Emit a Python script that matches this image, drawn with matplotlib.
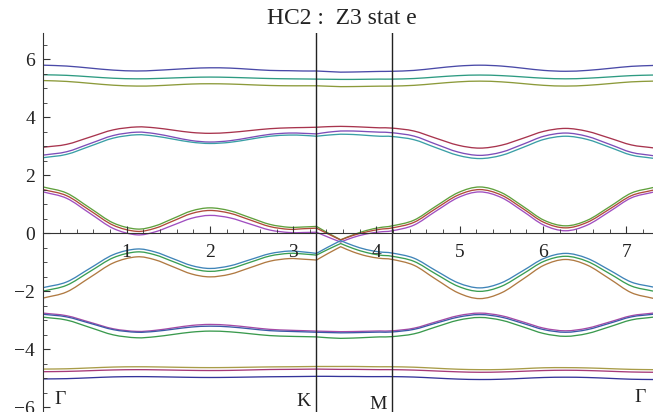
import matplotlib
matplotlib.use("Agg")
import matplotlib.pyplot as plt
from matplotlib.path import Path
from matplotlib.patches import PathPatch
from matplotlib.ticker import MultipleLocator, FixedLocator

# ---------------- band data ----------------
k = [0, 0.28, 0.56, 0.84, 1.12, 1.34, 1.56, 1.78, 2.0, 2.24, 2.48, 2.72, 2.95,
     3.12, 3.28, 3.42, 3.57, 3.72, 3.88, 4.04, 4.19, 4.45, 4.71, 4.98, 5.24,
     5.5, 5.76, 6.01, 6.27, 6.53, 6.8, 7.06, 7.32]

band1 = [5.80, 5.77, 5.70, 5.63, 5.60, 5.62, 5.655, 5.69, 5.71, 5.70, 5.66, 5.62, 5.61,
         5.60, 5.60, 5.58, 5.56, 5.565, 5.575, 5.585, 5.59, 5.62, 5.695, 5.77, 5.80,
         5.77, 5.695, 5.62, 5.59, 5.62, 5.69, 5.76, 5.79]
band2 = [5.47, 5.45, 5.40, 5.35, 5.33, 5.34, 5.36, 5.38, 5.39, 5.38, 5.36, 5.34, 5.33,
         5.325, 5.32, 5.315, 5.31, 5.31, 5.315, 5.32, 5.32, 5.34, 5.39, 5.44, 5.46,
         5.44, 5.395, 5.35, 5.33, 5.35, 5.395, 5.44, 5.46]
band3 = [5.27, 5.24, 5.175, 5.11, 5.08, 5.09, 5.12, 5.15, 5.16, 5.15, 5.125, 5.10, 5.09,
         5.09, 5.09, 5.075, 5.06, 5.063, 5.07, 5.077, 5.08, 5.105, 5.165, 5.225, 5.25,
         5.225, 5.165, 5.105, 5.08, 5.105, 5.165, 5.225, 5.25]
band4 = [2.97, 3.07, 3.32, 3.57, 3.67, 3.64, 3.56, 3.48, 3.45, 3.48, 3.545, 3.61, 3.64,
         3.65, 3.66, 3.68, 3.69, 3.68, 3.66, 3.64, 3.63, 3.53, 3.285, 3.04, 2.94,
         3.04, 3.28, 3.52, 3.62, 3.52, 3.285, 3.05, 2.95]
band5 = [2.70, 2.815, 3.095, 3.375, 3.49, 3.44, 3.32, 3.20, 3.15, 3.195, 3.305, 3.415, 3.46,
         3.45, 3.43, 3.49, 3.53, 3.53, 3.51, 3.49, 3.47, 3.355, 3.08, 2.805, 2.69,
         2.80, 3.075, 3.35, 3.46, 3.345, 3.07, 2.795, 2.68]
band6 = [2.61, 2.725, 3.005, 3.285, 3.40, 3.355, 3.25, 3.145, 3.10, 3.14, 3.245, 3.35, 3.39,
         3.38, 3.35, 3.39, 3.42, 3.41, 3.38, 3.35, 3.34, 3.23, 2.96, 2.69, 2.58,
         2.69, 2.965, 3.24, 3.35, 3.24, 2.97, 2.70, 2.59]
band7 = [1.60, 1.39, 0.875, 0.36, 0.15, 0.255, 0.515, 0.775, 0.88, 0.78, 0.545, 0.31, 0.21,
         0.22, 0.24, 0.01, -0.22, -0.05, 0.10, 0.20, 0.26, 0.455, 0.93, 1.405, 1.60,
         1.405, 0.93, 0.455, 0.26, 0.45, 0.92, 1.39, 1.58]
band8 = [1.51, 1.30, 0.79, 0.28, 0.07, 0.175, 0.43, 0.685, 0.79, 0.695, 0.465, 0.235, 0.14,
         0.16, 0.18, -0.02, -0.23, -0.07, 0.05, 0.14, 0.19, 0.38, 0.85, 1.32, 1.51,
         1.32, 0.85, 0.38, 0.19, 0.38, 0.84, 1.30, 1.49]
band9 = [1.43, 1.21, 0.69, 0.17, -0.05, 0.05, 0.285, 0.52, 0.62, 0.535, 0.325, 0.115, 0.03,
         0.03, 0.04, -0.13, -0.30, -0.14, -0.02, 0.05, 0.09, 0.285, 0.76, 1.235, 1.43,
         1.235, 0.76, 0.285, 0.09, 0.285, 0.755, 1.225, 1.42]
band10 = [-1.87, -1.675, -1.205, -0.735, -0.54, -0.64, -0.875, -1.11, -1.21, -1.12, -0.91, -0.70, -0.61,
          -0.64, -0.69, -0.47, -0.25, -0.42, -0.56, -0.64, -0.68, -0.855, -1.28, -1.705, -1.88,
          -1.705, -1.285, -0.865, -0.69, -0.86, -1.27, -1.68, -1.85]
band11 = [-1.99, -1.79, -1.315, -0.84, -0.64, -0.74, -0.975, -1.21, -1.31, -1.22, -1.00, -0.78, -0.69,
          -0.71, -0.75, -0.55, -0.35, -0.52, -0.66, -0.75, -0.79, -0.965, -1.395, -1.825, -2.00,
          -1.825, -1.395, -0.965, -0.79, -0.965, -1.39, -1.815, -1.99]
band12 = [-2.23, -2.02, -1.52, -1.02, -0.81, -0.91, -1.155, -1.40, -1.50, -1.41, -1.185, -0.96, -0.87,
          -0.89, -0.92, -0.69, -0.46, -0.64, -0.78, -0.86, -0.90, -1.10, -1.575, -2.05, -2.25,
          -2.05, -1.575, -1.10, -0.90, -1.095, -1.57, -2.045, -2.24]
band13 = [-2.75, -2.84, -3.065, -3.29, -3.38, -3.345, -3.26, -3.175, -3.14, -3.17, -3.24, -3.31, -3.34,
          -3.355, -3.37, -3.38, -3.39, -3.385, -3.375, -3.365, -3.36, -3.27, -3.055, -2.84, -2.75,
          -2.84, -3.055, -3.27, -3.36, -3.27, -3.055, -2.84, -2.75]
band14 = [-2.79, -2.88, -3.10, -3.32, -3.41, -3.38, -3.305, -3.23, -3.20, -3.225, -3.29, -3.355, -3.38,
          -3.395, -3.41, -3.42, -3.43, -3.425, -3.415, -3.405, -3.40, -3.31, -3.10, -2.89, -2.80,
          -2.89, -3.105, -3.32, -3.41, -3.32, -3.10, -2.88, -2.79]
band15 = [-2.89, -2.99, -3.245, -3.50, -3.60, -3.565, -3.485, -3.405, -3.37, -3.395, -3.46, -3.525, -3.55,
          -3.56, -3.57, -3.60, -3.62, -3.61, -3.59, -3.57, -3.56, -3.465, -3.23, -2.995, -2.90,
          -2.995, -3.225, -3.455, -3.55, -3.455, -3.22, -2.985, -2.89]
band16 = [-4.68, -4.67, -4.64, -4.61, -4.60, -4.605, -4.615, -4.625, -4.63, -4.625, -4.615, -4.605, -4.60,
          -4.595, -4.59, -4.59, -4.59, -4.59, -4.595, -4.60, -4.60, -4.615, -4.65, -4.685, -4.70,
          -4.695, -4.665, -4.635, -4.63, -4.64, -4.665, -4.69, -4.70]
band17 = [-4.77, -4.76, -4.735, -4.71, -4.70, -4.705, -4.715, -4.725, -4.73, -4.725, -4.71, -4.695, -4.69,
          -4.685, -4.68, -4.685, -4.69, -4.69, -4.695, -4.70, -4.70, -4.715, -4.745, -4.775, -4.79,
          -4.78, -4.755, -4.73, -4.72, -4.73, -4.755, -4.78, -4.79]
band18 = [-5.02, -5.01, -4.98, -4.95, -4.94, -4.945, -4.955, -4.965, -4.97, -4.965, -4.955, -4.945, -4.94,
          -4.935, -4.93, -4.93, -4.935, -4.935, -4.94, -4.94, -4.94, -4.955, -4.99, -5.025, -5.04,
          -5.03, -5.00, -4.97, -4.96, -4.97, -5.00, -5.03, -5.04]

bands = [band1, band2, band3, band4, band5, band6, band7, band8, band9,
         band10, band11, band12, band13, band14, band15, band16, band17, band18]
colors = ['#4a4aa8', '#2e9b82', '#8c9a3a',
          '#a8344e', '#7e4db8', '#3a9fa6',
          '#5fa03c', '#b04a3a', '#a04ec0',
          '#3f84b8', '#3a9e52', '#b07a42',
          '#a64aa6', '#3c5aa8', '#3a9a4e',
          '#a89c48', '#a63a78', '#34349a']

k_points = [3.28, 4.19]
kink_idx = [14, 16]          # K and the band crossing: no smoothing across these
sym_labels = ['Γ', 'K', 'M', 'Γ']
sym_x = [0.2, 3.12, 4.02, 7.16]
sym_y = [-5.74, -5.81, -5.91, -5.67]


def smooth_path(xs, ys, breaks):
    # cubic bezier through the read points, pieces split at the kinks
    cuts = [0] + breaks + [len(xs) - 1]
    verts, codes = [], []
    for a, b in zip(cuts[:-1], cuts[1:]):
        px, py = xs[a:b + 1], ys[a:b + 1]
        n = len(px)
        tx, ty = [], []
        for i in range(n):
            i0, i1 = max(i - 1, 0), min(i + 1, n - 1)
            f = 0.5 if 0 < i < n - 1 else 1.0
            tx.append((px[i1] - px[i0]) * f)
            ty.append((py[i1] - py[i0]) * f)
        if not verts:
            verts.append((px[0], py[0]))
            codes.append(Path.MOVETO)
        for i in range(n - 1):
            verts += [(px[i] + tx[i] / 3, py[i] + ty[i] / 3),
                      (px[i + 1] - tx[i + 1] / 3, py[i + 1] - ty[i + 1] / 3),
                      (px[i + 1], py[i + 1])]
            codes += [Path.CURVE4] * 3
    return Path(verts, codes)


# ---------------- plotting ----------------
plt.rcParams['font.family'] = ['Liberation Serif', 'DejaVu Serif']

fig = plt.figure(figsize=(6.53, 4.12), dpi=100)
ax = fig.add_axes([43.3 / 653, 0.0, 1 - 43.3 / 653, 1 - 33 / 412])

for b, c in zip(bands, colors):
    ax.add_patch(PathPatch(smooth_path(k, b, kink_idx), fill=False,
                           edgecolor=c, lw=0.95, capstyle='round'))

for xv in k_points:
    ax.axvline(xv, color='#222222', lw=1.0)

ax.set_xlim(0, 7.32)
ax.set_ylim(-6.16, 6.91)

for s in ['top', 'right']:
    ax.spines[s].set_visible(False)
ax.spines['bottom'].set_position(('data', 0))
ax.spines['left'].set_color('#333333')
ax.spines['bottom'].set_color('#333333')

ax.xaxis.set_major_locator(FixedLocator([1, 2, 3, 4, 5, 6, 7]))
ax.xaxis.set_minor_locator(MultipleLocator(0.2))
ax.yaxis.set_major_locator(MultipleLocator(2))
ax.yaxis.set_minor_locator(MultipleLocator(0.5))
ax.tick_params(which='both', direction='in', color='#333333', labelsize=14,
               labelcolor='#222222')
ax.tick_params(which='major', length=5, width=0.8)
ax.tick_params(which='minor', length=3, width=0.6)
ax.tick_params(axis='x', pad=8)
ax.tick_params(axis='y', pad=6)

for lab, xv, yv in zip(sym_labels, sym_x, sym_y):
    ax.text(xv, yv, lab, fontsize=14, ha='center', va='center', color='#222222')

fig.text(342 / 653, 1 - 19 / 412, 'HC2 :  Z3 stat e', fontsize=17,
         ha='center', va='center', color='#222222')

fig.savefig('out.png', dpi=100)
